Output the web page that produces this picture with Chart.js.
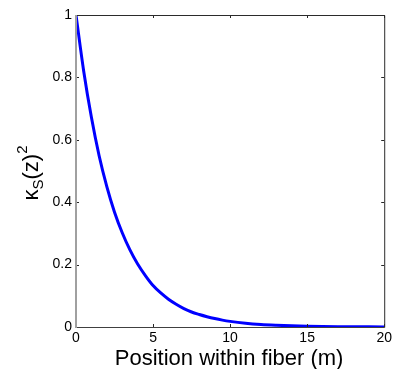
<!DOCTYPE html>
<html>
<head>
<meta charset="utf-8">
<script src="https://cdn.jsdelivr.net/npm/chart.js@4/dist/chart.umd.min.js"></script>
<style>
html,body{margin:0;padding:0;background:#fff;}
#wrap{width:395px;height:369px;}
</style>
</head>
<body>
<div id="wrap"><canvas id="c" width="395" height="369"></canvas></div>
<script>
// Position within fiber (m)
const positions = [0, 0.5, 1, 1.5, 2, 2.5, 3, 3.5, 4, 4.5, 5, 5.5, 6, 6.5, 7, 7.5, 8, 8.5, 9, 9.5, 10, 11, 12, 13, 14, 15, 16, 17, 18, 19, 20];
// kappa_S(z)^2
const kappaSq = [1.0, 0.82, 0.672, 0.549, 0.45, 0.368, 0.302, 0.247, 0.202, 0.165, 0.133, 0.109, 0.089, 0.073, 0.059, 0.048, 0.040, 0.033, 0.027, 0.022, 0.018, 0.012, 0.008, 0.0055, 0.0037, 0.0025, 0.0017, 0.0011, 0.0008, 0.0005, 0.0003];
const xTicks = [0, 5, 10, 15, 20];
const yTicks = [0, 0.2, 0.4, 0.6, 0.8, 1];
const xTitle = 'Position within fiber (m)';

const FONT = "'Liberation Sans', Arial, sans-serif";

const framePlugin = {
  id: 'frame',
  afterDatasetsDraw(chart) {
    const ctx = chart.ctx, a = chart.chartArea;
    const xs = chart.scales.x, ys = chart.scales.y;
    ctx.save();
    ctx.strokeStyle = '#262626';
    ctx.lineWidth = 1;
    ctx.beginPath();
    xTicks.forEach(v => {
      const px = Math.round(xs.getPixelForValue(v)) + 0.5;
      ctx.moveTo(px, a.bottom); ctx.lineTo(px, a.bottom - 3);
      ctx.moveTo(px, a.top); ctx.lineTo(px, a.top + 3);
    });
    yTicks.forEach(v => {
      const py = Math.round(ys.getPixelForValue(v)) + 0.5;
      ctx.moveTo(a.left, py); ctx.lineTo(a.left + 3, py);
      ctx.moveTo(a.right, py); ctx.lineTo(a.right - 3, py);
    });
    ctx.stroke();
    ctx.strokeStyle = '#2b2b2b';
    ctx.beginPath();
    ctx.moveTo(a.left, a.top + 0.5); ctx.lineTo(a.right + 0.5, a.top + 0.5);
    ctx.lineTo(a.right + 0.5, a.bottom + 0.5);
    ctx.stroke();
    ctx.strokeStyle = '#404040';
    ctx.beginPath();
    ctx.moveTo(a.left, a.bottom + 0.5); ctx.lineTo(a.right + 0.5, a.bottom + 0.5);
    ctx.stroke();
    ctx.strokeStyle = '#a0a0a0';
    ctx.lineWidth = 2;
    ctx.beginPath();
    ctx.moveTo(a.left, a.top); ctx.lineTo(a.left, a.bottom + 1);
    ctx.stroke();
    ctx.restore();
  },
  afterDraw(chart) {
    const ctx = chart.ctx, a = chart.chartArea;
    ctx.save();
    ctx.fillStyle = '#000';
    ctx.font = '22px ' + FONT;
    ctx.textAlign = 'center';
    ctx.textBaseline = 'alphabetic';
    ctx.fillText(xTitle, (a.left + a.right) / 2 - 1, 365);
    const big = '22px ' + FONT, small = '15px ' + FONT;
    const parts = [
      {t: 'κ', f: big, dy: 0},
      {t: 'S', f: small, dy: 5},
      {t: '(z)', f: big, dy: 0},
      {t: '2', f: small, dy: -11}
    ];
    let total = 0;
    parts.forEach(p => { ctx.font = p.f; p.w = ctx.measureText(p.t).width; total += p.w; });
    ctx.translate(38, 173);
    ctx.rotate(-Math.PI / 2);
    ctx.textAlign = 'left';
    let x = -total / 2;
    parts.forEach(p => { ctx.font = p.f; ctx.fillText(p.t, x, p.dy); x += p.w; });
    ctx.restore();
  }
};

new Chart(document.getElementById('c'), {
  type: 'line',
  data: {
    datasets: [{
      data: positions.map((p, i) => ({x: p, y: kappaSq[i]})),
      borderColor: '#0000ff',
      borderWidth: 3,
      pointRadius: 0,
      cubicInterpolationMode: 'monotone',
      fill: false
    }]
  },
  options: {
    responsive: false,
    animation: false,
    devicePixelRatio: 1,
    layout: {padding: {top: 15, right: 7, left: 0, bottom: 0}},
    plugins: {legend: {display: false}, tooltip: {enabled: false}},
    scales: {
      x: {
        type: 'linear', min: 0, max: 20,
        afterBuildTicks: s => { s.ticks = xTicks.map(v => ({value: v})); },
        afterFit: s => { s.height = 42; },
        grid: {display: false, drawTicks: false},
        border: {display: false},
        ticks: {color: '#000', font: {family: FONT, size: 14}, padding: 3, maxRotation: 0,
          callback: v => String(v)}
      },
      y: {
        type: 'linear', min: 0, max: 1,
        afterBuildTicks: s => { s.ticks = yTicks.map(v => ({value: v})); },
        afterFit: s => { s.width = 76; },
        grid: {display: false, drawTicks: false},
        border: {display: false},
        ticks: {color: '#000', font: {family: FONT, size: 14}, padding: 4,
          callback: v => String(v)}
      }
    }
  },
  plugins: [framePlugin]
});
</script>
</body>
</html>
